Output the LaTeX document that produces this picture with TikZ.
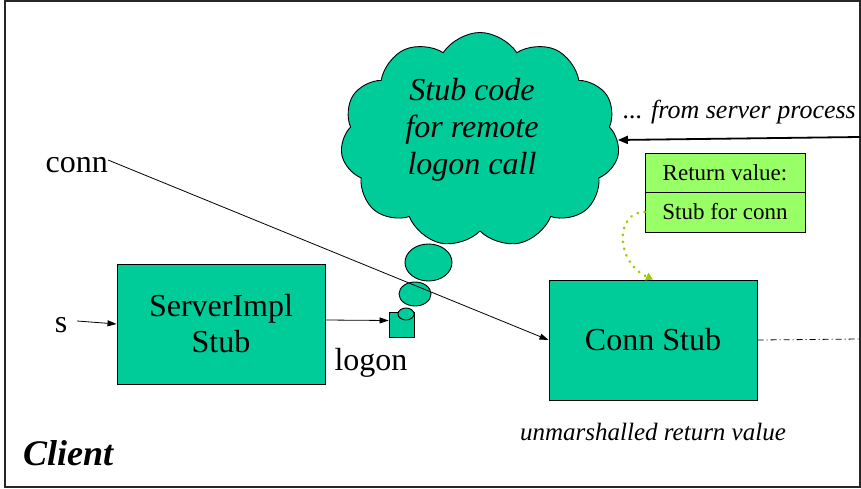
\documentclass[tikz,border=0pt]{standalone}
\usepackage{fontspec}
\setmainfont{Liberation Serif}
\usetikzlibrary{shapes.symbols,shapes.geometric,arrows.meta}
\definecolor{stubgreen}{HTML}{00CC99}
\definecolor{litegreen}{HTML}{99FF66}
\definecolor{dotgreen}{HTML}{99CC00}
\tikzset{
  stubbox/.style={draw, fill=stubgreen, line width=1pt, inner sep=0pt, align=center,
    font=\fontsize{32}{36}\selectfont},
  retbox/.style={draw, fill=litegreen, line width=0.8pt, inner sep=0pt, minimum width=160pt,
    font=\fontsize{23}{26}\selectfont},
  bubble/.style={ellipse, draw, fill=stubgreen, line width=0.9pt, inner sep=0pt},
  lbl/.style={inner sep=0pt, font=\fontsize{32}{36}\selectfont},
  thin/.style={line width=0.8pt},
  tip/.style={-{Triangle[length=9pt,width=6pt]}}
}
\begin{document}
\begin{tikzpicture}[x=1pt,y=-1pt]
\useasboundingbox (0,0) rectangle (861,489);
\draw[line width=1.5pt, black!85] (5,1) rectangle (860,487);

% cloud and thought bubbles
\node[cloud, cloud puffs=11, cloud puff arc=115, cloud ignores aspect, draw, fill=stubgreen,
  line width=0.9pt, minimum width=279pt, minimum height=215pt, inner sep=0pt] (cloud) at (480,140) {};
\node[inner sep=0pt, align=center, font=\itshape\fontsize{32}{37}\selectfont] (cloudtxt) at (472,130)
  {Stub code\\for remote\\logon call};
\node[bubble, minimum width=47pt, minimum height=37pt] (e1) at (428.5,262.5) {};
\node[bubble, minimum width=32pt, minimum height=24pt] (e2) at (415,294) {};
\node[draw, fill=stubgreen, line width=0.9pt, minimum size=25pt, inner sep=0pt] (sq) at (401.5,324.5) {};
\node[bubble, minimum width=16pt, minimum height=12pt] (e3) at (406,314) {};

% boxes
\node[stubbox, minimum width=208pt, minimum height=120pt] (sis) at (221,324) {ServerImpl\\Stub};
\node[stubbox, minimum width=208pt, minimum height=120pt] (cs) at (653,340) {Conn Stub};
\node[retbox, minimum height=39pt] (rv) at (725,172.5) {Return value:};
\node[retbox, minimum height=40pt] (sfc) at (725,212) {Stub for conn};

% labels
\node[lbl, anchor=base east] (conn) at (108,172) {conn};
\node[lbl, anchor=base] (s) at (61,332) {s};
\node[lbl, anchor=base] (logon) at (371,370) {logon};
\node[inner sep=0pt, anchor=base west, font=\bfseries\itshape\fontsize{36}{40}\selectfont] (client) at (23,465) {Client};
\node[inner sep=0pt, anchor=base, font=\itshape\fontsize{25}{28}\selectfont] (unm) at (653,440) {unmarshalled return value};
\node[inner sep=0pt, anchor=base east, font=\itshape\fontsize{26}{30}\selectfont] (from) at (856,119) {... from server process};

% connectors
\coordinate (connend) at (108,160);
\coordinate (sstart) at (77,321);
\coordinate (rightedge) at (860,339);
\coordinate (srvpt) at (860,137);
\draw[thin, tip] (connend) -- (cs.west);
\draw[thin, tip] (sstart) -- (sis.west);
\draw[thin, tip] ([yshift=4pt]sis.east) -- ([yshift=4pt]sq.west);
\draw[thin, dash pattern=on 6pt off 3pt on 1pt off 3pt] (cs.east) -- (rightedge);
\draw[line width=1.8pt, -{Triangle[length=10pt,width=8pt]}] (srvpt) -- (cloud.east);
\draw[dotgreen, line width=3pt, line cap=round, dash pattern=on 0.01pt off 7pt,
  -{Triangle[length=7pt,width=8pt]}] (sfc.west) .. controls (615,212) and (615,262) .. (cs.north);
\end{tikzpicture}
\end{document}
